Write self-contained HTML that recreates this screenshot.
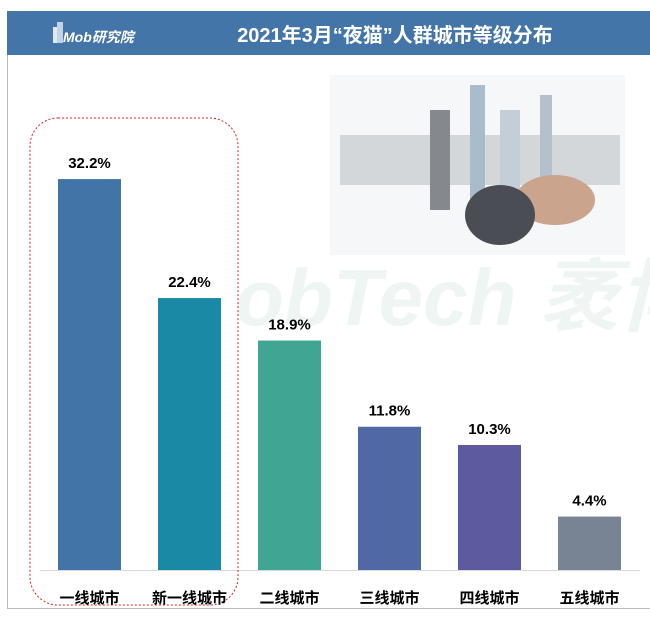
<!DOCTYPE html>
<html><head><meta charset="utf-8"><style>
body{margin:0;width:650px;height:619px;background:#fff;overflow:hidden;font-family:"Liberation Sans","Noto Sans CJK SC",sans-serif}
</style></head><body>
<svg width="650" height="619" style="position:absolute;left:0;top:0">
<rect x="7" y="11" width="643" height="44" fill="#4475a9"/>
<g>
<rect x="53" y="27" width="7" height="16" fill="#dfe8f2"/><rect x="57" y="22" width="6" height="21" fill="#c4d3e4"/>
<text x="63" y="42" font-size="14" font-style="italic" font-weight="bold" fill="#fff">Mob研究院</text></g>
<text x="395" y="42" font-size="20" font-weight="bold" fill="#fff" text-anchor="middle">2021年3月“夜猫”人群城市等级分布</text>
<line x1="7.5" y1="55" x2="7.5" y2="608" stroke="#bbb"/>
<line x1="7" y1="608.5" x2="650" y2="608.5" stroke="#bbb"/>
<text x="235" y="325" font-size="80" font-weight="bold" font-style="italic" fill="#eef5f3">obTech 袤博</text>
<g>
<rect x="330" y="75" width="295" height="180" fill="#f6f7f8"/>
<rect x="340" y="135" width="280" height="50" fill="#d4d7da"/>
<rect x="470" y="85" width="15" height="130" fill="#a9bccc"/><rect x="500" y="110" width="20" height="100" fill="#c4ced8"/>
<rect x="430" y="110" width="20" height="100" fill="#85898d"/><rect x="540" y="95" width="12" height="120" fill="#b5c0cc"/>
<ellipse cx="555" cy="200" rx="40" ry="25" fill="#caa48c"/><ellipse cx="500" cy="215" rx="35" ry="30" fill="#4a4d54"/>
</g>
<line x1="40" y1="570.5" x2="640" y2="570.5" stroke="#d9d9d9"/>
<rect x="30" y="118" width="208" height="487" rx="28" fill="none" stroke="#e02020" stroke-dasharray="2,2"/>
<g id="bars"></g>
</svg>
<script>
const categories=["一线城市","新一线城市","二线城市","三线城市","四线城市","五线城市"];
const values=[32.2,22.4,18.9,11.8,10.3,4.4];
const colors=["#4374a8","#1a89a5","#40a593","#5068a3","#5e5aa0","#788394"];
const base=570,scale=12.14;
const xPos=i=>58+i*100;
const yPos=v=>base-v*scale;
const g=document.getElementById('bars');const NS="http://www.w3.org/2000/svg";
values.forEach((v,i)=>{
const r=document.createElementNS(NS,'rect');


r.setAttribute('x',xPos(i));r.setAttribute('y',yPos(v));r.setAttribute('width',63);r.setAttribute('height',base-yPos(v));r.setAttribute('fill',colors[i]);g.appendChild(r);
const t=document.createElementNS(NS,'text');


t.setAttribute('x',xPos(i)+31.5);t.setAttribute('y',yPos(v)-11);t.setAttribute('text-anchor','middle');t.setAttribute('font-size','15');t.setAttribute('font-weight','bold');t.textContent=v.toFixed(1)+'%';g.appendChild(t);
const c=document.createElementNS(NS,'text');


c.setAttribute('x',xPos(i)+31.5);c.setAttribute('y',603);c.setAttribute('text-anchor','middle');c.setAttribute('font-size','15');c.setAttribute('font-weight','bold');c.textContent=categories[i];g.appendChild(c);
});
</script>
</body></html>
